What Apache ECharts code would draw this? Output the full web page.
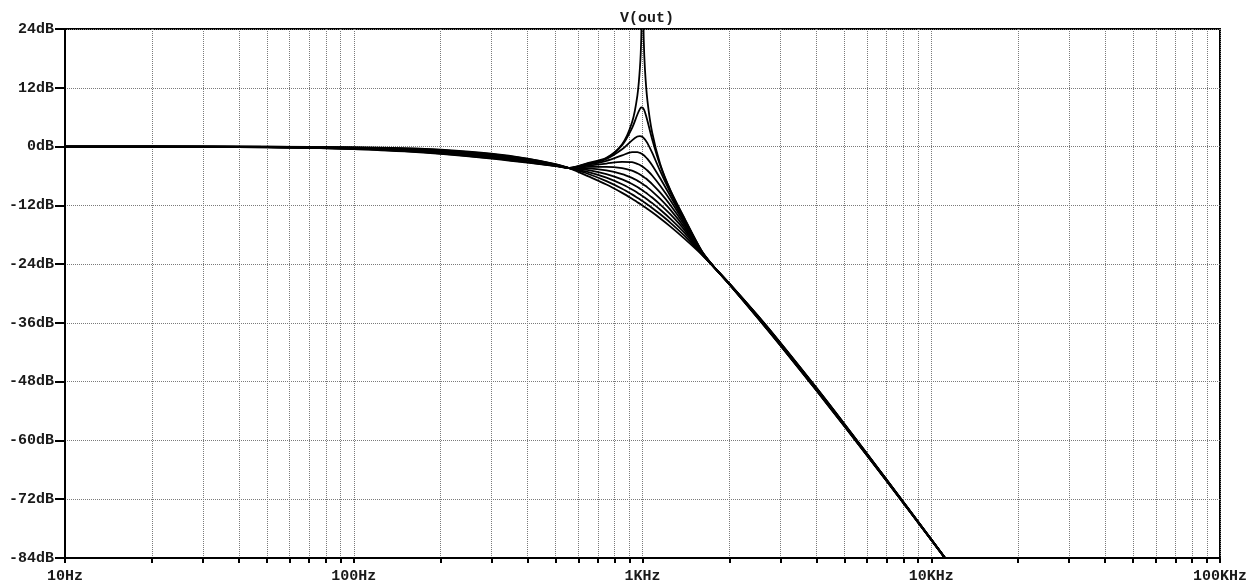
<!DOCTYPE html>
<html>
<head>
<meta charset="utf-8">
<title>V(out)</title>
<script src="https://cdn.jsdelivr.net/npm/echarts@6/dist/echarts.min.js"></script>
<style>
  html, body { margin: 0; padding: 0; background: #fff; }
  #chart { width: 1258px; height: 585px; }
</style>
</head>
<body>
<div id="chart"></div>
<script>
// frequencies (Hz) the curves were read at
var freqs = [10, 20, 50, 100, 150, 200, 300, 400, 500, 560, 650, 750, 850, 920, 960, 980, 990, 1000, 1010, 1020, 1040, 1080, 1150, 1250, 1400, 1600, 1750, 2000, 2500, 3000, 4000, 5000, 7000, 10000, 11500];

// gain (dB), one list per resonance step, lowest to highest
var step0 = [0, 0, -0.03, -0.15, -0.35, -0.65, -1.45, -2.45, -3.6, -4.45, -6.1, -7.75, -9.45, -10.65, -11.35, -11.69, -11.87, -12.04, -12.22, -12.39, -12.74, -13.43, -14.64, -16.35, -18.85, -22.0, -24.35, -27.96, -34.42, -40.0, -49.21, -56.6, -67.96, -80.17, -84.99];
var step1 = [0, 0, -0.04, -0.19, -0.42, -0.74, -1.55, -2.54, -3.64, -4.44, -5.6, -7.06, -8.61, -9.76, -10.44, -10.78, -10.95, -11.13, -11.3, -11.47, -11.83, -12.53, -13.78, -15.57, -18.25, -21.9, -24.34, -27.98, -34.47, -40.06, -49.27, -56.65, -67.99, -80.19, -85.0];
var step2 = [0, -0.01, -0.05, -0.22, -0.48, -0.82, -1.65, -2.62, -3.68, -4.43, -5.2, -6.35, -7.7, -8.77, -9.42, -9.76, -9.93, -10.1, -10.28, -10.45, -10.81, -11.54, -12.84, -14.75, -17.65, -21.8, -24.33, -28.0, -34.52, -40.12, -49.33, -56.7, -68.02, -80.2, -85.01];
var step3 = [0, -0.01, -0.07, -0.26, -0.55, -0.91, -1.75, -2.71, -3.72, -4.42, -4.8, -5.61, -6.7, -7.65, -8.27, -8.6, -8.77, -8.94, -9.12, -9.3, -9.66, -10.41, -11.81, -13.87, -17.1, -21.7, -24.32, -28.02, -34.57, -40.18, -49.39, -56.75, -68.05, -80.22, -85.02];
var step4 = [0, -0.01, -0.08, -0.29, -0.61, -0.99, -1.85, -2.79, -3.76, -4.41, -4.45, -4.86, -5.61, -6.39, -6.95, -7.27, -7.43, -7.6, -7.78, -7.96, -8.34, -9.14, -10.65, -12.94, -16.6, -21.6, -24.31, -28.04, -34.62, -40.24, -49.45, -56.8, -68.08, -80.23, -85.03];
var step5 = [0, -0.02, -0.09, -0.33, -0.68, -1.08, -1.95, -2.88, -3.8, -4.4, -4.15, -4.14, -4.41, -4.92, -5.4, -5.69, -5.85, -6.02, -6.2, -6.39, -6.78, -7.66, -9.37, -11.99, -16.1, -21.5, -24.3, -28.06, -34.67, -40.3, -49.51, -56.85, -68.11, -80.25, -85.04];
var step6 = [0, -0.02, -0.1, -0.36, -0.74, -1.16, -2.05, -2.96, -3.84, -4.39, -3.9, -3.47, -3.13, -3.2, -3.52, -3.77, -3.92, -4.08, -4.26, -4.46, -4.89, -5.91, -7.96, -11.03, -15.7, -21.45, -24.29, -28.08, -34.72, -40.36, -49.57, -56.9, -68.14, -80.26, -85.05];
var step7 = [0, -0.02, -0.11, -0.4, -0.81, -1.25, -2.15, -3.05, -3.88, -4.38, -3.7, -2.91, -1.8, -1.15, -1.14, -1.3, -1.43, -1.58, -1.77, -1.99, -2.51, -3.8, -6.43, -10.15, -15.35, -21.4, -24.28, -28.1, -34.77, -40.42, -49.63, -56.95, -68.17, -80.28, -85.06];
var step8 = [0, -0.02, -0.13, -0.43, -0.87, -1.33, -2.25, -3.13, -3.92, -4.37, -3.55, -2.53, -0.57, 1.27, 2.04, 2.13, 2.07, 1.94, 1.73, 1.44, 0.69, -1.26, -4.93, -9.44, -15.05, -21.3, -24.27, -28.12, -34.82, -40.48, -49.69, -57.0, -68.2, -80.29, -85.07];
var step9 = [0, -0.03, -0.14, -0.47, -0.94, -1.42, -2.35, -3.22, -3.96, -4.36, -3.45, -2.4, 0.29, 3.78, 6.54, 7.68, 7.97, 7.96, 7.63, 7.01, 5.28, 1.49, -3.77, -9.03, -14.85, -21.25, -24.26, -28.14, -34.87, -40.54, -49.75, -57.05, -68.23, -80.31, -85.08];
var step10 = [0, -0.03, -0.15, -0.5, -1.0, -1.5, -2.45, -3.3, -4.0, -4.35, -3.35, -2.3, 0.48, 4.95, 10.42, 16.18, 22.07, 36, 21.8, 15.66, 9.39, 2.86, -3.45, -8.95, -14.7, -21.2, -24.25, -28.16, -34.92, -40.6, -49.81, -57.1, -68.26, -80.32, -85.09];

// axis ticks
var xTicks = [10, 20, 30, 40, 50, 60, 70, 80, 90,
  100, 200, 300, 400, 500, 600, 700, 800, 900,
  1000, 2000, 3000, 4000, 5000, 6000, 7000, 8000, 9000,
  10000, 20000, 30000, 40000, 50000, 60000, 70000, 80000, 90000, 100000];
var xLabels = [10, 100, 1000, 10000, 100000];
var xLabelText = { 10: '10Hz', 100: '100Hz', 1000: '1KHz', 10000: '10KHz', 100000: '100KHz' };

var steps = [step0, step1, step2, step3, step4, step5, step6, step7, step8, step9, step10];

var font = '"Liberation Mono", "DejaVu Sans Mono", monospace';
var gridLine = { color: '#7a7a7a', width: 1, type: [1, 1] };

var chart = echarts.init(document.getElementById('chart'));

chart.setOption({
  animation: false,
  backgroundColor: '#fff',
  title: {
    text: 'V(out)',
    left: 642,
    top: 6,
    textAlign: 'center',
    textStyle: { fontFamily: font, fontWeight: 'bold', fontSize: 15, color: '#1a1a1a' }
  },
  grid: {
    left: 65, right: 38, top: 29, bottom: 27,
    show: true, borderColor: '#000', borderWidth: 2
  },
  xAxis: {
    type: 'log',
    logBase: 10,
    min: 10,
    max: 100000,
    axisLine: { show: true, onZero: false, lineStyle: { color: '#000', width: 2 } },
    axisTick: { show: true, length: 5, lineStyle: { color: '#000', width: 2 }, customValues: xTicks },
    axisLabel: {
      customValues: xLabels,
      formatter: function(v) { return xLabelText[Math.round(v)] || ''; },
      fontFamily: font, fontWeight: 'bold', fontSize: 15, color: '#1a1a1a', margin: 11
    },
    splitLine: { show: true, lineStyle: gridLine },
    minorTick: { show: false },
    minorSplitLine: { show: false }
  },
  yAxis: {
    type: 'value',
    min: -84,
    max: 24,
    interval: 12,
    axisLine: { show: true, onZero: false, lineStyle: { color: '#000', width: 2 } },
    axisTick: { show: true, length: 10, lineStyle: { color: '#000', width: 2 } },
    axisLabel: {
      formatter: function(v) { return v + 'dB'; },
      fontFamily: font, fontWeight: 'bold', fontSize: 15, color: '#1a1a1a', margin: 11
    },
    splitLine: { show: true, lineStyle: gridLine }
  },
  series: steps.map(function(arr, i) {
    return {
      name: 'step' + i,
      type: 'line',
      showSymbol: false,
      smooth: 0.3,
      clip: true,
      lineStyle: { color: '#000', width: 1.8 },
      data: freqs.map(function(f, j) { return [f, arr[j]]; })
    };
  })
});
</script>
</body>
</html>
